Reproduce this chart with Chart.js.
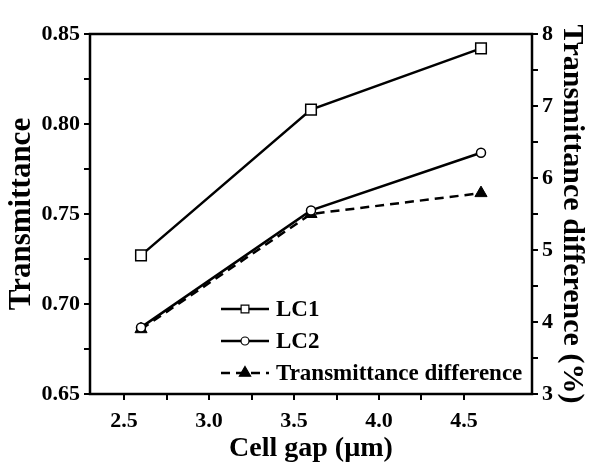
<!DOCTYPE html>
<html><head><meta charset="utf-8">
<script src="https://cdn.jsdelivr.net/npm/chart.js@4"></script>
<style>html,body{margin:0;padding:0;background:#fff}#wrap{width:590px;height:466px}</style>
</head><body><div id="wrap"><canvas id="c" width="590" height="466"></canvas></div>
<script>
const cellGap = [2.6, 3.6, 4.6];
const lc1 = [0.727, 0.808, 0.842];
const lc2 = [0.687, 0.752, 0.784];
const transDiff = [3.90, 5.50, 5.79];
const seriesNames = ['LC1', 'LC2', 'Transmittance difference'];
const xTickLabels = ['2.5', '3.0', '3.5', '4.0', '4.5'];
const yTickLabels = ['0.65', '0.70', '0.75', '0.80', '0.85'];
const y2TickLabels = ['3', '4', '5', '6', '7', '8'];

const FONT = '"Liberation Serif", "Times New Roman", serif';
const tickFont = {family: FONT, size: 22, weight: 'bold'};
const yTitleFont = {family: FONT, size: 31, weight: 'bold'};
const y2TitleFont = {family: FONT, size: 30, weight: 'bold'};
const xTitleFont = {family: FONT, size: 28, weight: 'bold'};

function mk(xs, ys){ return xs.map((x,i)=>({x:x, y:ys[i]})); }

const frame = {
  id:'frame',
  afterDraw(chart){
    const {ctx, chartArea:a} = chart;
    ctx.save();
    ctx.strokeStyle='#000'; ctx.lineWidth=2.5;
    ctx.strokeRect(a.left, a.top, a.right-a.left, a.bottom-a.top);
    // legend
    const ds = chart.data.datasets;
    const rows = [309, 341, 373];
    const x0 = 221, x1 = 269, xm = 245;
    ctx.font = 'bold 23px ' + FONT;
    ctx.textBaseline='middle'; ctx.fillStyle='#000';
    ds.forEach((d,i)=>{
      const y = rows[i];
      ctx.lineWidth = 2.5; ctx.strokeStyle='#000';
      ctx.setLineDash(d.borderDash || []);
      ctx.beginPath(); ctx.moveTo(x0,y); ctx.lineTo(x1,y); ctx.stroke();
      ctx.setLineDash([]);
      ctx.lineWidth = 1.2;
      ctx.fillStyle = d.pointBackgroundColor;
      const r = i===0 ? 5.5 : (i===1 ? 4 : 6.5);
      Chart.helpers.drawPoint(ctx, {pointStyle:d.pointStyle, rotation:0, radius:r, borderWidth:1.2}, xm, y);
      ctx.fillStyle='#000';
      ctx.fillText(seriesNames[i], 276, y+1);
    });
    ctx.restore();
  }
};

new Chart(document.getElementById('c'), {
  type:'line',
  data:{datasets:[
    {label:seriesNames[0], data:mk(cellGap,lc1), yAxisID:'y', borderColor:'#000', borderWidth:2.5,
     pointStyle:'rect', pointRadius:7.5, pointBorderWidth:1.5, pointBackgroundColor:'#fff', pointBorderColor:'#000'},
    {label:seriesNames[1], data:mk(cellGap,lc2), yAxisID:'y', borderColor:'#000', borderWidth:2.5,
     pointStyle:'circle', pointRadius:4.5, pointBorderWidth:1.5, pointBackgroundColor:'#fff', pointBorderColor:'#000'},
    {label:seriesNames[2], data:mk(cellGap,transDiff), yAxisID:'y2', borderColor:'#000', borderWidth:2.5,
     borderDash:[9,6], pointStyle:'triangle', pointRadius:7, pointBorderWidth:1, pointBackgroundColor:'#000', pointBorderColor:'#000'}
  ]},
  options:{
    responsive:false, animation:false, devicePixelRatio:1,
    layout:{padding:{top:34, left:0, right:0, bottom:0}},
    plugins:{legend:{display:false}, tooltip:{enabled:false}},
    scales:{
      x:{type:'linear', min:2.3, max:4.9,
        afterBuildTicks(s){ const t=[]; for(let i=0;i<=9;i++){ t.push({value:2.25+0.25*i}); } s.ticks=t.filter(k=>k.value>=2.3&&k.value<=4.9); },
        afterFit(s){ s.height = 72; },
        ticks:{font:tickFont, color:'#000', padding:8, maxRotation:0, autoSkip:false,
          callback(v){ const k=Math.round((v-2.5)/0.5*100)/100; return Number.isInteger(k) && k>=0 && k<xTickLabels.length ? xTickLabels[k] : ''; }},
        grid:{drawOnChartArea:false, drawTicks:true, tickLength:6, color:'#000', lineWidth:2},
        border:{display:false},
        title:{display:true, text:'Cell gap (\u00b5m)', font:xTitleFont, color:'#000', padding:{top:5,bottom:0}}
      },
      y:{type:'linear', position:'left', min:0.65, max:0.85,
        afterBuildTicks(s){ const t=[]; for(let i=0;i<=8;i++){ t.push({value:0.65+0.025*i}); } s.ticks=t; },
        afterFit(s){ s.width = 90; },
        ticks:{font:tickFont, color:'#000', padding:4, autoSkip:false,
          callback(v,i){ return i%2===0 ? yTickLabels[i/2] : ''; }},
        grid:{drawOnChartArea:false, drawTicks:true, tickLength:6, color:'#000', lineWidth:2},
        border:{display:false},
        title:{display:true, text:'Transmittance', font:yTitleFont, color:'#000', padding:{top:3,bottom:0}}
      },
      y2:{type:'linear', position:'right', min:3, max:8,
        afterBuildTicks(s){ const t=[]; for(let i=0;i<=10;i++){ t.push({value:3+0.5*i}); } s.ticks=t; },
        afterFit(s){ s.width = 58; },
        ticks:{font:tickFont, color:'#000', padding:4, autoSkip:false,
          callback(v,i){ return i%2===0 ? y2TickLabels[i/2] : ''; }},
        grid:{drawOnChartArea:false, drawTicks:true, tickLength:6, color:'#000', lineWidth:2},
        border:{display:false},
        title:{display:true, text:'Transmittance difference (%)', font:y2TitleFont, color:'#000', padding:{top:0,bottom:0}}
      }
    }
  },
  plugins:[frame]
});
</script></body></html>
